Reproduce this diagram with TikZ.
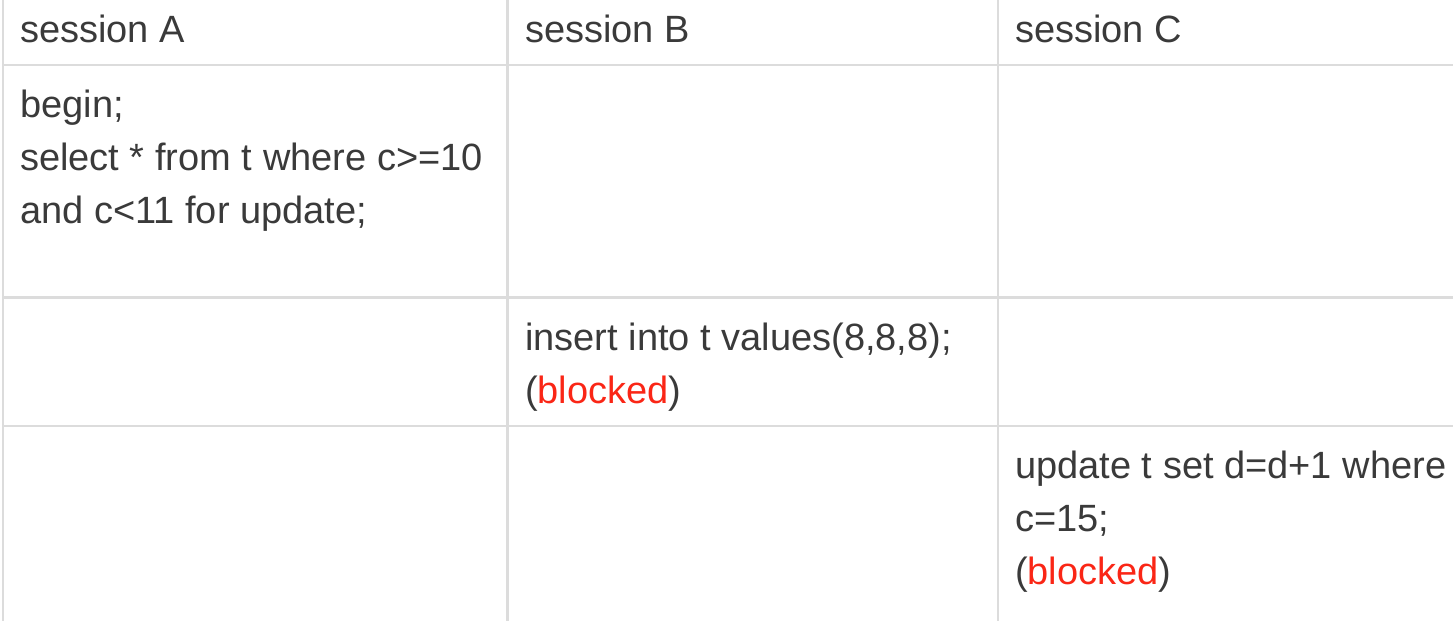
\documentclass[tikz,border=0pt]{standalone}
\usepackage{fontspec}
\setmainfont{Liberation Sans}
\definecolor{gridc}{RGB}{220,220,220}
\definecolor{txtc}{RGB}{58,58,58}
\definecolor{redc}{RGB}{250,38,22}
\begin{document}
\begin{tikzpicture}[x=1pt,y=-1pt,
  cell/.style={anchor=base west,inner sep=0pt,text=txtc,font=\fontsize{38}{53}\selectfont},
  gridline/.style={draw=gridc,line width=2.4pt}]
\useasboundingbox (0,0) rectangle (1453,621);
% grid
\coordinate (vA0) at (3,0);   \coordinate (vA1) at (3,621);
\coordinate (vB0) at (507.5,0); \coordinate (vB1) at (507.5,621);
\coordinate (vC0) at (998,0); \coordinate (vC1) at (998,621);
\coordinate (h10) at (3,65);  \coordinate (h11) at (1453,65);
\coordinate (h20) at (3,297.5); \coordinate (h21) at (1453,297.5);
\coordinate (h30) at (3,426); \coordinate (h31) at (1453,426);
\draw[gridline] (vA0) -- (vA1);
\draw[gridline] (vB0) -- (vB1);
\draw[gridline] (vC0) -- (vC1);
\draw[gridline] (h10) -- (h11);
\draw[gridline] (h20) -- (h21);
\draw[gridline] (h30) -- (h31);
% header
\node[cell] (hA) at (20,42) {session A};
\node[cell] (hB) at (525,42) {session B};
\node[cell] (hC) at (1015,42) {session C};
% row 1
\node[cell] (a1) at (20,117) {begin;};
\node[cell] (a2) at (20,170) {select * from t where c>=10};
\node[cell] (a3) at (20,223) {and c<11 for update;};
% row 2
\node[cell] (b1) at (525,350) {insert into t values(8,8,8);};
\node[cell] (b2) at (525,403) {(\textcolor{redc}{blocked})};
% row 3
\node[cell] (c1) at (1015,478) {update t set d=d+1 where};
\node[cell] (c2) at (1015,531) {c=15;};
\node[cell] (c3) at (1015,584) {(\textcolor{redc}{blocked})};
\end{tikzpicture}
\end{document}
